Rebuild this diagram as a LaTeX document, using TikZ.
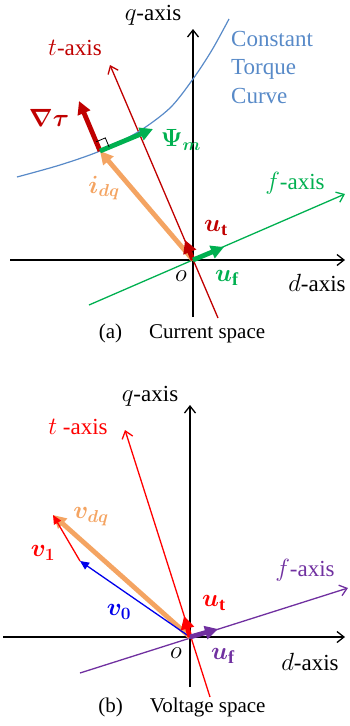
\documentclass[tikz,border=0pt]{standalone}
\usepackage{fontspec}
\setmainfont{Liberation Serif}
\usepackage{bm}
\usetikzlibrary{arrows.meta}
\definecolor{darkred}{RGB}{192,0,0}
\definecolor{axgreen}{RGB}{0,176,80}
\definecolor{vecorange}{RGB}{244,164,98}
\definecolor{curveblue}{RGB}{88,138,200}
\definecolor{axpurple}{RGB}{112,48,160}
\definecolor{vblue}{RGB}{0,0,235}
\begin{document}
\begin{tikzpicture}[x=1pt,y=-1pt]
            %
            % `axis' is used for the thin axes with open tips.
            % `vec' is used for the thick vectors.
            % `thinvec' is used for v0 and v1.
            % `lbl', `veclbl' and `caption' are used for the texts.
            \tikzstyle{axis} = [line width=1.3pt,-{Straight Barb[length=7pt,width=11pt]}]
            \tikzstyle{vec} = [line width=4.8pt,-{Triangle[length=13pt,width=13pt]}]
            \tikzstyle{thinvec} = [line width=1.3pt,-{Triangle[length=9pt,width=8pt]}]
            \tikzstyle{lbl} = [font=\fontsize{23}{28.5}\selectfont,inner sep=0pt]
            \tikzstyle{veclbl} = [font=\fontsize{26}{30}\selectfont,inner sep=0pt]
            \tikzstyle{caption} = [font=\fontsize{21}{25}\selectfont,inner sep=0pt]
            \useasboundingbox (0,0) rectangle (349,726);
            %
            % (a) Axes
            \coordinate (Oa) at (193,260);
            \coordinate (qa0) at (193,317);
            \coordinate (qa1) at (193,29);
            \coordinate (da0) at (10,260);
            \coordinate (da1) at (345,260);
            \coordinate (ta0) at (218,318);
            \coordinate (ta1) at (110,65);
            \coordinate (fa0) at (89,305);
            \coordinate (fa1) at (345,194);
            \draw[axis] (qa0) -- (qa1);
            \draw[axis] (da0) -- (da1);
            \draw[axis,darkred] (ta0) -- (ta1);
            \draw[axis,axgreen] (fa0) -- (fa1);
            %
            % (a) Constant torque curve
            \draw[curveblue,line width=1.2pt] plot[smooth] coordinates {(17,177) (60,165) (100,151) (138,132) (170,108) (193,79) (212,50) (229,19)};
            %
            % (a) Vectors
            \coordinate (Pa) at (100,151);
            \coordinate (grad) at (79,101);
            \coordinate (psi) at (153,129);
            \coordinate (uta) at (185,240);
            \coordinate (ufa) at (224,247);
            \draw[vec,vecorange] (Oa) -- (Pa);
            \draw[vec,darkred] (Pa) -- (grad);
            \draw[vec,axgreen] (Pa) -- (psi);
            \draw[line width=0.8pt,shift={(Pa)}] (9.2,-3.9) -- (5.3,-13.1) -- (-3.9,-9.2);
            \draw[vec,darkred] (Oa) -- (uta);
            \draw[vec,axgreen] (Oa) -- (ufa);
            %
            % (a) Labels
            \node[lbl] (qlaba) at (153,15) {$q$-axis};
            \node[lbl] (dlaba) at (317,283) {$d$-axis};
            \node[lbl,text=darkred] (tlaba) at (75,48) {$t$-axis};
            \node[lbl,text=axgreen] (flaba) at (295,183) {$f$-axis};
            \node[lbl,text=curveblue,align=left,anchor=north west] (ctc) at (231,31) {Constant\\Torque\\Curve};
            \node[veclbl] (oa) at (181,276) {$o$};
            \node[veclbl,text=darkred] (gradlab) at (49,118) {$\bm{\nabla\tau}$};
            \node[veclbl,text=axgreen] (psilab) at (181,140) {$\bm{\Psi}_{\bm{m}}$};
            \node[veclbl,text=vecorange] (idqlab) at (104,188) {$\bm{i}_{\bm{dq}}$};
            \node[veclbl,text=darkred] (utlaba) at (216,228) {$\bm{u}_{\mathbf{t}}$};
            \node[veclbl,text=axgreen] (uflaba) at (227,278) {$\bm{u}_{\mathbf{f}}$};
            \node[caption] (capa) at (182,333) {(a)\hspace{27pt}Current space};
            %
            % (b) Axes
            \coordinate (Ob) at (190,637);
            \coordinate (qb0) at (190,687);
            \coordinate (qb1) at (190,405);
            \coordinate (db0) at (3,637);
            \coordinate (db1) at (345,637);
            \coordinate (tb0) at (210,697);
            \coordinate (tb1) at (125,430);
            \coordinate (fb0) at (80,673);
            \coordinate (fb1) at (348,588);
            \draw[axis] (qb0) -- (qb1);
            \draw[axis] (db0) -- (db1);
            \draw[axis,red] (tb0) -- (tb1);
            \draw[axis,axpurple] (fb0) -- (fb1);
            %
            % (b) Vectors
            \coordinate (vdq) at (53,515);
            \coordinate (vz) at (80,561);
            \coordinate (utb) at (184,616);
            \coordinate (ufb) at (218,629);
            \draw[vec,vecorange] (Ob) -- (vdq);
            \draw[thinvec,vblue] (Ob) -- (vz);
            \draw[thinvec,red] (vz) -- (vdq);
            \draw[vec,red] (Ob) -- (utb);
            \draw[vec,axpurple] (Ob) -- (ufb);
            %
            % (b) Labels
            \node[lbl] (qlabb) at (150,396) {$q$-axis};
            \node[lbl] (dlabb) at (310,662) {$d$-axis};
            \node[lbl,text=red] (tlabb) at (78,427) {$t$ -axis};
            \node[lbl,text=axpurple] (flabb) at (305,570) {$f$-axis};
            \node[veclbl] (ob) at (176,653) {$o$};
            \node[veclbl,text=vecorange] (vdqlab) at (91,517) {$\bm{v}_{\bm{dq}}$};
            \node[veclbl,text=vblue] (vzlab) at (119,612) {$\bm{v}_{\bm{0}}$};
            \node[veclbl,text=red] (volab) at (43,553) {$\bm{v}_{\bm{1}}$};
            \node[veclbl,text=red] (utlabb) at (214,603) {$\bm{u}_{\mathbf{t}}$};
            \node[veclbl,text=axpurple] (uflabb) at (223,656) {$\bm{u}_{\mathbf{f}}$};
            \node[caption] (capb) at (182,707) {(b)\hspace{27pt}Voltage space};
        \end{tikzpicture}
\end{document}
